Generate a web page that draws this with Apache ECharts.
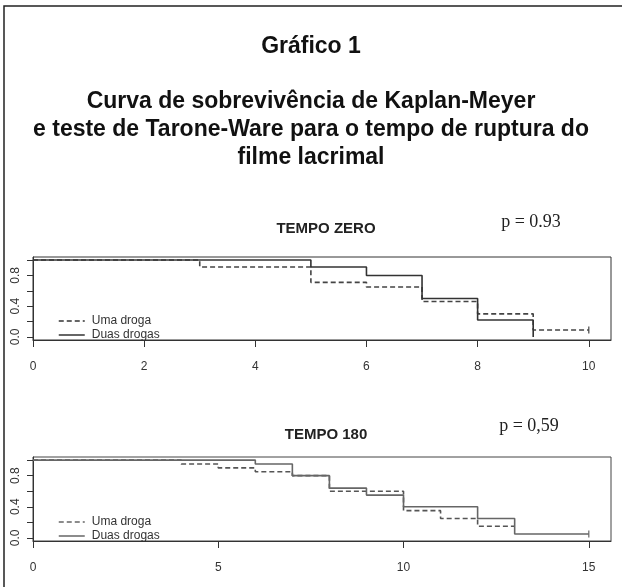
<!DOCTYPE html>
<html><head><meta charset="utf-8">
<script src="https://cdn.jsdelivr.net/npm/echarts@6/dist/echarts.min.js"></script>
<style>html,body{margin:0;padding:0;background:#fff}#c{width:622px;height:587px}</style>
</head><body><div id="c"></div>
<script>
// ---- data ----
const seriesNames = ['Uma droga', 'Duas drogas'];
// TEMPO ZERO (time, survival after event)
const zeroUmaT = [0, 3, 5, 6, 7, 8, 9, 10];
const zeroUmaS = [1.0, 0.91, 0.71, 0.65, 0.46, 0.30, 0.09, 0.09];
const zeroDuasT = [0, 5, 6, 7, 8, 9];
const zeroDuasS = [1.0, 0.91, 0.80, 0.50, 0.22, 0.0];
const zeroCensorT = [10];
const zeroCensorS = [0.09];
// TEMPO 180
const t180UmaT = [0, 4, 5, 6, 7, 8, 10, 11, 12, 13];
const t180UmaS = [1.0, 0.95, 0.90, 0.85, 0.80, 0.60, 0.35, 0.25, 0.15, 0.15];
const t180DuasT = [0, 6, 7, 8, 9, 10, 12, 13, 15];
const t180DuasS = [1.0, 0.95, 0.80, 0.64, 0.55, 0.40, 0.25, 0.05, 0.05];
const t180CensorT = [15];
const t180CensorS = [0.05];
// axes
const xTicksZero = [0, 2, 4, 6, 8, 10];
const xTicks180 = [0, 5, 10, 15];
const yTicks = [0, 0.2, 0.4, 0.6, 0.8, 1.0];
const yTickLabels = [0, 0.4, 0.8];
// texts
const heading = 'Gráfico 1';
const mainTitle = 'Curva de sobrevivência de Kaplan-Meyer\ne teste de Tarone-Ware para o tempo de ruptura do\nfilme lacrimal';
const panelTitles = ['TEMPO ZERO', 'TEMPO 180'];
const pValues = ['p = 0.93', 'p = 0,59'];

const zip = (a, b) => a.map((v, i) => [v, b[i]]);
const SANS = '"Liberation Sans", Arial, sans-serif';
const SERIF = '"Liberation Serif", "Times New Roman", serif';

function xAxis(gi, maxT, ticks) {
  return {
    type: 'value', gridIndex: gi, min: 0, max: maxT * 1.04,
    axisLine: { show: true, onZero: false, lineStyle: { color: '#333', width: 1 } },
    axisTick: { show: true, length: 7, customValues: ticks, lineStyle: { color: '#333' } },
    axisLabel: { customValues: ticks, margin: 21, fontSize: 12, color: '#333', fontFamily: SANS },
    splitLine: { show: false }
  };
}
function yAxis(gi) {
  return {
    type: 'value', gridIndex: gi, min: -0.04, max: 1.04,
    axisLine: { show: true, onZero: false, lineStyle: { color: '#333', width: 1 } },
    axisTick: { show: true, length: 6, customValues: yTicks, lineStyle: { color: '#333' } },
    axisLabel: { customValues: yTickLabels, rotate: 90, margin: 11, fontSize: 12, color: '#333', fontFamily: SANS,
      formatter: v => v.toFixed(1) },
    splitLine: { show: false }
  };
}
function stepSeries(name, gi, t, s, dashed, color) {
  return {
    name, type: 'line', step: 'end', xAxisIndex: gi, yAxisIndex: gi,
    data: zip(t, s), symbol: 'none', showSymbol: false, silent: true, animation: false,
    lineStyle: { color, width: 1.6, type: dashed ? [5, 3] : 'solid' },
    itemStyle: { color }
  };
}
function censor(gi, t, s, color) {
  return {
    type: 'scatter', xAxisIndex: gi, yAxisIndex: gi, data: zip(t, s),
    symbol: 'rect', symbolSize: [1.5, 7], itemStyle: { color }, silent: true, animation: false
  };
}
function legend(top, color) {
  return {
    left: 53, top, orient: 'vertical', itemWidth: 26, itemHeight: 11, itemGap: 2,
    selectedMode: false,
    textStyle: { fontSize: 12, color: '#333', fontFamily: SANS, padding: [0, 0, 0, 2] },
    data: [
      { name: seriesNames[0], itemStyle: { opacity: 0 }, lineStyle: { color, type: [5, 3], width: 1.5 } },
      { name: seriesNames[1], itemStyle: { opacity: 0 }, lineStyle: { color, type: 'solid', width: 1.5 } }
    ]
  };
}

const chart = echarts.init(document.getElementById('c'), null, { renderer: 'canvas' });
chart.setOption({
  animation: false,
  backgroundColor: '#fff',
  title: [
    { text: heading, left: 311, top: 35, textAlign: 'center', padding: 0,
      textStyle: { fontSize: 23, fontWeight: 'bold', color: '#111', fontFamily: SANS } },
    { text: mainTitle, left: 311, top: 88, textAlign: 'center', padding: 0,
      textStyle: { fontSize: 23, fontWeight: 'bold', color: '#111', fontFamily: SANS, lineHeight: 28, align: 'center' } },
    { text: panelTitles[0], left: 326, top: 221, textAlign: 'center', padding: 0,
      textStyle: { fontSize: 15, fontWeight: 'bold', color: '#222', fontFamily: SANS } },
    { text: pValues[0], left: 531, top: 213, textAlign: 'center', padding: 0,
      textStyle: { fontSize: 18, fontWeight: 'normal', color: '#222', fontFamily: SERIF } },
    { text: panelTitles[1], left: 326, top: 427, textAlign: 'center', padding: 0,
      textStyle: { fontSize: 15, fontWeight: 'bold', color: '#222', fontFamily: SANS } },
    { text: pValues[1], left: 529, top: 417, textAlign: 'center', padding: 0,
      textStyle: { fontSize: 18, fontWeight: 'normal', color: '#222', fontFamily: SERIF } }
  ],
  graphic: [
    { type: 'polyline', shape: { points: [[4, 700], [4, 6], [700, 6]] }, style: { stroke: '#222', lineWidth: 1.5, fill: null }, silent: true }
  ],
  grid: [
    { left: 33, top: 257, width: 578, height: 83, show: true, borderColor: '#333', borderWidth: 1, backgroundColor: 'transparent' },
    { left: 33, top: 457, width: 578, height: 84, show: true, borderColor: '#444', borderWidth: 1, backgroundColor: 'transparent' }
  ],
  xAxis: [xAxis(0, 10, xTicksZero), xAxis(1, 15, xTicks180)],
  yAxis: [yAxis(0), yAxis(1)],
  legend: [legend(310, '#333'), legend(511, '#666')],
  series: [
    stepSeries(seriesNames[0], 0, zeroUmaT, zeroUmaS, true, '#444'),
    stepSeries(seriesNames[1], 0, zeroDuasT, zeroDuasS, false, '#333'),
    censor(0, zeroCensorT, zeroCensorS, '#444'),
    stepSeries(seriesNames[0], 1, t180UmaT, t180UmaS, true, '#555'),
    stepSeries(seriesNames[1], 1, t180DuasT, t180DuasS, false, '#666'),
    censor(1, t180CensorT, t180CensorS, '#666')
  ]
});
</script></body></html>
